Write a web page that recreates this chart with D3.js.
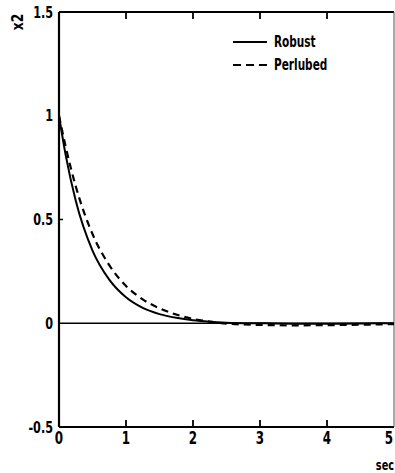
<!DOCTYPE html>
<html>
<head>
<meta charset="utf-8">
<script src="https://cdn.jsdelivr.net/npm/d3@7"></script>
<style>
  body { margin: 0; background: #fff; }
  svg text { font-family: "DejaVu Sans Condensed", "Liberation Sans Narrow", sans-serif; font-weight: bold; fill: #000; }
</style>
</head>
<body>
<svg id="chart" width="395" height="473"></svg>
<script>
// time (sec)
const time_values = [0, 0.1, 0.25, 0.5, 0.75, 1, 1.25, 1.5, 1.75, 2, 2.25, 2.5, 3, 3.5, 4, 4.5, 5];
const robust_values = [1, 0.81, 0.59, 0.35, 0.21, 0.125, 0.074, 0.044, 0.026, 0.014, 0.007, 0.003, 0, -0.002, -0.002, -0.001, 0];
const perturbed_values = [1, 0.85, 0.66, 0.43, 0.28, 0.18, 0.115, 0.072, 0.042, 0.021, 0.008, -0.002, -0.008, -0.01, -0.009, -0.007, -0.004];

const x_ticks = [0, 1, 2, 3, 4, 5];
const y_ticks = [-0.5, 0, 0.5, 1, 1.5];
const y_tick_labels = ["-0.5", "0", "0.5", "1", "1.5"];
const legend_labels = ["Robust", "Perlubed"];

const svg = d3.select("#chart");
const plot_left = 59, plot_right = 394, plot_top = 12, plot_bottom = 427;

const x = d3.scaleLinear().domain([0, 5]).range([plot_left, plot_right]);
const y = d3.scaleLinear().domain([-0.5, 1.5]).range([plot_bottom, plot_top]);

// narrow text: squeeze horizontally
function addText(px, py, str, size, anchor, baseline) {
    return svg.append("text")
        .attr("transform", "translate(" + px + "," + py + ") scale(0.78,1)")
        .attr("text-anchor", anchor)
        .attr("dominant-baseline", baseline || "auto")
        .attr("font-size", size)
        .text(str);
}

// frame
svg.append("line").attr("x1", plot_left).attr("y1", plot_top).attr("x2", plot_left).attr("y2", plot_bottom)
    .attr("stroke", "#000").attr("stroke-width", 2.2);
svg.append("line").attr("x1", plot_left).attr("y1", plot_top).attr("x2", plot_right).attr("y2", plot_top)
    .attr("stroke", "#000").attr("stroke-width", 2);
svg.append("line").attr("x1", plot_left).attr("y1", plot_bottom).attr("x2", plot_right).attr("y2", plot_bottom)
    .attr("stroke", "#000").attr("stroke-width", 2);
svg.append("line").attr("x1", plot_right).attr("y1", plot_top).attr("x2", plot_right).attr("y2", plot_bottom)
    .attr("stroke", "#555").attr("stroke-width", 1);

// x ticks (top and bottom, inward)
for (let i = 1; i < x_ticks.length - 1; i++) {
    let xt = x(x_ticks[i]);
    svg.append("line").attr("x1", xt).attr("y1", plot_top).attr("x2", xt).attr("y2", plot_top + 7)
        .attr("stroke", "#000").attr("stroke-width", 1.8);
    svg.append("line").attr("x1", xt).attr("y1", plot_bottom).attr("x2", xt).attr("y2", plot_bottom - 7)
        .attr("stroke", "#000").attr("stroke-width", 1.8);
}
// y tick at 0.5
svg.append("line").attr("x1", plot_left).attr("y1", y(0.5)).attr("x2", plot_left + 4).attr("y2", y(0.5))
    .attr("stroke", "#000").attr("stroke-width", 1.5);

// x tick labels
x_ticks.forEach(function (t) {
    addText(x(t) - (t == 5 ? 5 : 0), 444, t, 17, "middle");
});
addText(385, 470, "sec", 14, "middle");

// y tick labels
y_ticks.forEach(function (v, i) {
    addText(plot_left - 6, y(v), y_tick_labels[i], 16, "end", "central");
});

// y label
svg.append("text")
    .attr("transform", "translate(23,22) rotate(-90) scale(0.85,1)")
    .attr("text-anchor", "middle")
    .attr("font-size", 16)
    .text("x2");

// zero line
svg.append("line").attr("x1", plot_left).attr("y1", y(0)).attr("x2", plot_right).attr("y2", y(0))
    .attr("stroke", "#000").attr("stroke-width", 1.6);

const line = d3.line()
    .x((d, i) => x(time_values[i]))
    .y(d => y(d))
    .curve(d3.curveMonotoneX);

svg.append("path").datum(robust_values).attr("d", line)
    .attr("fill", "none").attr("stroke", "#000").attr("stroke-width", 2);
svg.append("path").datum(perturbed_values).attr("d", line)
    .attr("fill", "none").attr("stroke", "#000").attr("stroke-width", 2.2)
    .attr("stroke-dasharray", "7,5");

// legend
const legend_y = [42, 65];
legend_labels.forEach(function (lab, i) {
    let ln = svg.append("line").attr("x1", 233).attr("y1", legend_y[i]).attr("x2", 267).attr("y2", legend_y[i])
        .attr("stroke", "#000").attr("stroke-width", 2);
    if (i == 1) ln.attr("stroke-dasharray", "8,5");
    addText(274, legend_y[i], lab, 15, "start", "central");
});
</script>
</body>
</html>
